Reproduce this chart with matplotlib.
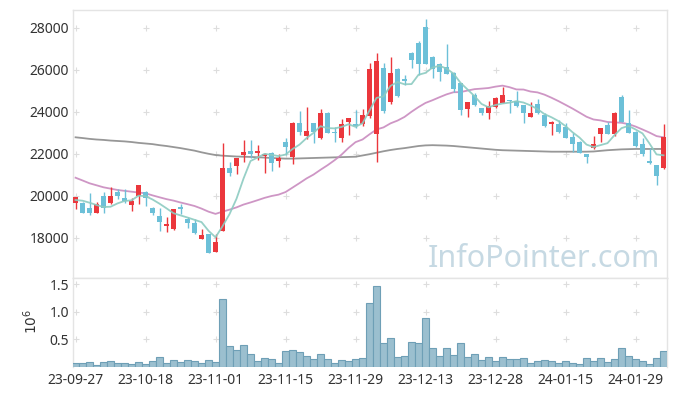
import matplotlib
matplotlib.use("Agg")
import matplotlib.pyplot as plt
import numpy as np
import pandas as pd

plt.rcParams["font.family"] = ["Noto Sans", "DejaVu Sans"]

# ── 데이터 ──────────────────────────────────────────
dates = [
    "23-09-27", "23-10-04", "23-10-05", "23-10-06", "23-10-10", "23-10-11", "23-10-12",
    "23-10-13", "23-10-16", "23-10-17", "23-10-18", "23-10-19", "23-10-20", "23-10-23",
    "23-10-24", "23-10-25", "23-10-26", "23-10-27", "23-10-30", "23-10-31", "23-11-01",
    "23-11-02", "23-11-03", "23-11-06", "23-11-07", "23-11-08", "23-11-09", "23-11-10",
    "23-11-13", "23-11-14", "23-11-15", "23-11-16", "23-11-17", "23-11-20", "23-11-21",
    "23-11-22", "23-11-23", "23-11-24", "23-11-27", "23-11-28", "23-11-29", "23-11-30",
    "23-12-01", "23-12-04", "23-12-05", "23-12-06", "23-12-07", "23-12-08", "23-12-11",
    "23-12-12", "23-12-13", "23-12-14", "23-12-15", "23-12-18", "23-12-19", "23-12-20",
    "23-12-21", "23-12-22", "23-12-26", "23-12-27", "23-12-28", "24-01-02", "24-01-03",
    "24-01-04", "24-01-05", "24-01-08", "24-01-09", "24-01-10", "24-01-11", "24-01-12",
    "24-01-15", "24-01-16", "24-01-17", "24-01-18", "24-01-19", "24-01-22", "24-01-23",
    "24-01-24", "24-01-25", "24-01-26", "24-01-29", "24-01-30", "24-01-31", "24-02-01",
    "24-02-02",
]
opens = [
    19681, 19681, 19414, 19205, 20000, 19681, 20205, 19890, 19571, 20000,
    20205, 19414, 19048, 18586, 18414, 19490, 18890, 18700, 17967, 18190,
    17348, 18348, 21333, 21443, 21952, 22127, 22060, 21905, 22033, 21681,
    22571, 21871, 23462, 22871, 23462, 22748, 23967, 23030, 22748, 23538,
    23430, 23429, 23810, 22938, 26081, 24462, 26033, 25571, 26824, 27300,
    28062, 26633, 26271, 26160, 25871, 25367, 24143, 24810, 24176, 23940,
    24250, 24443, 24571, 24540, 24333, 23776, 24381, 23857, 23414, 23429,
    23300, 22824, 22586, 22000, 22271, 22952, 23381, 22952, 24700, 23490,
    23062, 22476, 21681, 21476, 21319,
]
highs = [
    19950, 19714, 20129, 19729, 20205, 20414, 20319, 20319, 19890, 20524,
    20252, 19462, 19414, 18986, 19400, 19619, 18986, 18890, 18414, 18200,
    18190, 22538, 21633, 21800, 22667, 22667, 22429, 22033, 22110, 22000,
    22748, 23538, 24062, 24224, 23480, 24129, 24000, 23300, 23652, 23714,
    24100, 24129, 26319, 26795, 26319, 26638, 26081, 25762, 26871, 27357,
    28414, 26650, 26319, 27224, 25890, 25380, 24480, 24920, 24190, 24540,
    24700, 25205, 24590, 25014, 24350, 24490, 24605, 23938, 23550, 23619,
    23490, 22986, 22600, 22010, 22857, 23240, 23538, 23980, 24810, 24095,
    23080, 22750, 22271, 21490, 23429,
]
lows = [
    19367, 19176, 19095, 19176, 19205, 19605, 19857, 19681, 19300, 19605,
    19524, 19095, 18348, 18300, 18380, 19143, 18462, 18200, 17950, 17300,
    17330, 18330, 20952, 21048, 21633, 21795, 21700, 21110, 21205, 21367,
    21952, 21524, 22905, 22700, 22510, 22700, 23000, 22586, 22557, 22905,
    23250, 23333, 23700, 21605, 23938, 24367, 24729, 25286, 26081, 25762,
    26286, 25605, 25476, 25795, 24967, 23857, 23776, 24280, 23857, 23650,
    24200, 24414, 23967, 24250, 23490, 23748, 23920, 23300, 22905, 23014,
    22750, 22110, 22040, 21557, 22250, 22586, 22930, 22857, 23520, 22986,
    22350, 21905, 21540, 20524, 21300,
]
closes = [
    19938, 19205, 19205, 19619, 19414, 20000, 20000, 19776, 19776, 20524,
    19890, 19205, 18776, 18667, 19367, 19367, 18700, 18224, 18129, 17300,
    17810, 21333, 21110, 21795, 22095, 22000, 22143, 22000, 21557, 21810,
    22348, 23462, 23062, 23095, 23062, 23938, 23014, 22990, 23429, 23714,
    23330, 23857, 26033, 26429, 24062, 25843, 24776, 25490, 26476, 26286,
    26286, 26048, 25919, 25795, 25095, 24095, 24462, 24333, 23940, 24286,
    24650, 24810, 24540, 24286, 23967, 23967, 23938, 23333, 23538, 23062,
    22776, 22476, 22062, 21871, 22476, 23224, 22952, 23967, 23538, 23014,
    22381, 22000, 21557, 20952, 22795,
]
# 거래량 (백만 주)
volumes = [
    0.072, 0.072, 0.090, 0.036, 0.090, 0.114, 0.072, 0.072, 0.054, 0.090,
    0.054, 0.108, 0.180, 0.072, 0.132, 0.096, 0.132, 0.114, 0.072, 0.132,
    0.096, 1.230, 0.380, 0.310, 0.400, 0.235, 0.114, 0.163, 0.145, 0.072,
    0.290, 0.305, 0.270, 0.200, 0.145, 0.235, 0.145, 0.065, 0.126, 0.108,
    0.145, 0.163, 1.157, 1.470, 0.434, 0.524, 0.180, 0.200, 0.452, 0.434,
    0.886, 0.343, 0.200, 0.343, 0.217, 0.434, 0.180, 0.235, 0.127, 0.180,
    0.108, 0.180, 0.145, 0.145, 0.163, 0.072, 0.108, 0.127, 0.108, 0.072,
    0.108, 0.072, 0.054, 0.163, 0.108, 0.163, 0.090, 0.145, 0.343, 0.200,
    0.145, 0.108, 0.054, 0.163, 0.290,
]
# 이동평균: 앞부분은 이전 데이터가 필요해서 그림에서 읽은 값
ma5_head = [19810, 19776, 19681, 19571]
ma20_head = [
    20871, 20740, 20605, 20510, 20414, 20350, 20286, 20245, 20205, 20165,
    20129, 20030, 19938, 19850, 19780, 19690, 19610, 19524, 19400,
]
ma120 = [
    22795, 22760, 22720, 22690, 22670, 22640, 22620, 22600, 22570, 22530,
    22500, 22470, 22420, 22380, 22330, 22280, 22220, 22160, 22080, 22010,
    21950, 21920, 21900, 21880, 21870, 21860, 21845, 21830, 21810, 21795,
    21780, 21780, 21790, 21800, 21810, 21820, 21830, 21840, 21850, 21860,
    21870, 21930, 21990, 22060, 22130, 22190, 22240, 22280, 22330, 22380,
    22410, 22420, 22410, 22400, 22380, 22350, 22320, 22290, 22260, 22230,
    22200, 22180, 22170, 22160, 22150, 22140, 22130, 22120, 22110, 22110,
    22110, 22110, 22110, 22110, 22120, 22150, 22180, 22200, 22220, 22230,
    22240, 22240, 22240, 22240, 22240,
]

UP = "#eb373c"
DOWN = "#6cc0d8"
FRAME = "#e4e4e4"
TEXT = "#333333"

df = pd.DataFrame({"open": opens, "high": highs, "low": lows, "close": closes, "vol": volumes})
ma5 = df["close"].rolling(5).mean().to_numpy()
ma5[: len(ma5_head)] = ma5_head
ma20 = df["close"].rolling(20).mean().to_numpy()
ma20[: len(ma20_head)] = ma20_head

x = np.arange(len(df))
up = df["close"] >= df["open"]
colors = np.where(up, UP, DOWN)

fig = plt.figure(figsize=(6.77, 3.96), dpi=100)
W, H = 677, 396
ax = fig.add_axes([73 / W, 1 - 278 / H, 594 / W, 268 / H])
axv = fig.add_axes([73 / W, 1 - 367 / H, 594 / W, 89 / H], sharex=ax)

# ── 캔들 ────────────────────────────────────────────
ax.vlines(x, df["low"], df["high"], colors=colors, linewidth=1.0, zorder=3)
body_low = np.minimum(df["open"], df["close"])
body_h = np.maximum(np.abs(df["close"] - df["open"]), 40)
ax.bar(x, body_h, bottom=body_low, width=0.72, color=colors, linewidth=0, zorder=4)

ax.plot(x, ma120, color="#8c8c8c", lw=1.3, alpha=0.9, zorder=2)
ax.plot(x, ma20, color="#c98bbf", lw=1.3, alpha=0.9, zorder=2)
ax.plot(x, ma5, color="#8ccbc1", lw=1.3, alpha=0.9, zorder=5)

# ── 거래량 ──────────────────────────────────────────
axv.bar(x, df["vol"], width=1.0, color="#9bbfcf", edgecolor="#6e9fb6", linewidth=0.8, zorder=3)

xt = list(range(0, len(x), 10))
ax.set_xlim(-0.36, 84.5)
ax.set_ylim(16095, 28857)
yt = list(range(18000, 28001, 2000))
ax.set_yticks(yt)
ax.set_yticklabels([str(v) for v in yt])
axv.set_ylim(0, 1.615)
vt = [0.5, 1.0, 1.5]
axv.set_yticks(vt)
axv.set_yticklabels(["0.5", "1.0", "1.5"])
axv.set_xticks(xt)
axv.set_xticklabels([dates[i] for i in xt])
plt.setp(ax.get_xticklabels(), visible=False)

# 격자 대신 교차점에 작은 + 표시
for a, ys in ((ax, yt), (axv, vt)):
    gx, gy = np.meshgrid(xt, ys)
    a.scatter(gx.ravel(), gy.ravel(), marker="+", s=22, color="#dddddd", linewidths=0.8, zorder=1)
    a.tick_params(length=0, labelsize=10, labelcolor=TEXT, pad=3)
    for s in a.spines.values():
        s.set_color(FRAME)
        s.set_linewidth(1.0)
axv.spines["bottom"].set_visible(False)
axv.tick_params(axis="x", pad=4)

fig.text(32 / W, 1 - 321 / H, "$10^6$", rotation=90, ha="center", va="center",
         fontsize=10, color=TEXT)

ax.text(0.988, 0.04, "InfoPointer.com", transform=ax.transAxes, ha="right", va="baseline",
        fontsize=22, color="#c6d9e3", zorder=0)

fig.savefig("out.png", dpi=100)
